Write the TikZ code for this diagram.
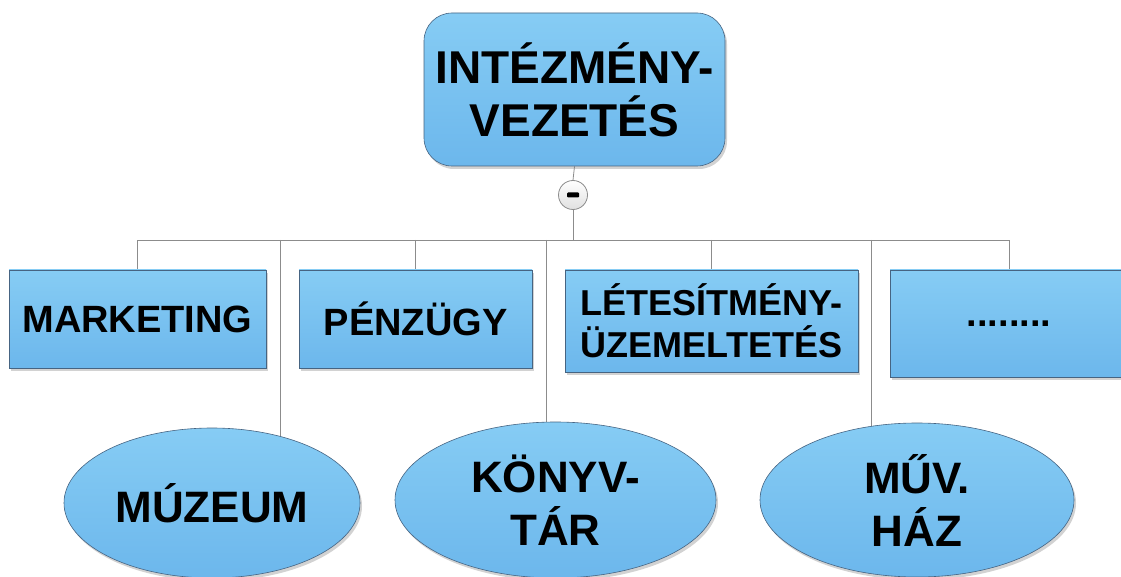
\documentclass[tikz,border=0pt]{standalone}
\usepackage{fontspec}
\setmainfont{Liberation Sans}
\usetikzlibrary{shapes.geometric,shadows,backgrounds}
\definecolor{boxtop}{RGB}{134,204,244}
\definecolor{boxbot}{RGB}{108,183,236}
\definecolor{boxline}{RGB}{70,100,130}
\definecolor{wire}{RGB}{140,140,140}
\tikzset{
  unit/.style={draw=boxline, line width=0.6pt, top color=boxtop, bottom color=boxbot,
    inner sep=0pt, align=center, font=\bfseries\fontsize{38}{46}\selectfont,
    drop shadow={shadow xshift=2pt, shadow yshift=-3pt, opacity=0.35}},
  deptbox/.style={unit, rectangle, minimum height=98pt},
  headbox/.style={unit, rectangle, rounded corners=28pt, minimum width=301pt, minimum height=153pt,
    font=\bfseries\fontsize{46}{53}\selectfont},
  sitebox/.style={unit, ellipse, font=\bfseries\fontsize{44}{53}\selectfont},
  wireline/.style={draw=wire, line width=0.8pt},
  togglemark/.style={circle, draw=wire, line width=0.8pt, inner sep=0pt, minimum size=29pt,
    top color=white, bottom color=black!12}
}
\begin{document}
\begin{tikzpicture}[x=1pt, y=-1pt]
\clip (0,0) rectangle (1121,577);

% head of the organisation
\node[headbox] (head) at (574.5,89.5) {INTÉZMÉNY-\\VEZETÉS};
\node[togglemark] (tog) at (573,195) {};
\fill[black, rounded corners=1pt] ([xshift=-6pt,yshift=-2.5pt]tog.center) rectangle ([xshift=6pt,yshift=2.5pt]tog.center);
\coordinate (bus) at (573,240);

% departments
\node[deptbox, minimum width=257pt] (mkt) at (137.5,319) {MARKETING};
\node[deptbox, minimum width=233pt] (fin) at (415.5,319) {PÉNZÜGY};
\node[deptbox, minimum width=293pt, minimum height=102pt,
      font=\bfseries\fontsize{36}{42}\selectfont] (fac) at (711.5,321) {LÉTESÍTMÉNY-\\ÜZEMELTETÉS};
\node[deptbox, minimum width=238pt, minimum height=107pt] (dots) at (1009,323.5) {........};

% institutions
\node[sitebox, minimum width=296pt, minimum height=150pt] (mus) at (212,503) {MÚZEUM};
\node[sitebox, minimum width=321pt, minimum height=156pt] (lib) at (555.5,500) {KÖNYV-\\TÁR};
\node[sitebox, minimum width=314pt, minimum height=154pt] (cult) at (917,500) {MŰV.\\HÁZ};

% connectors, kept behind the shapes
\begin{scope}[on background layer]
  \fill[white] (0,0) rectangle (1121,577);
  \draw[wireline] (head.south) -- (tog.north);
  \draw[wireline] (tog.south) -- (bus);
  \draw[wireline] (mkt.north) -- (mkt.north |- bus) -- (dots.north |- bus) -- (dots.north);
  \draw[wireline] (fin.north |- bus) -- (fin.north);
  \draw[wireline] (fac.north |- bus) -- (fac.north);
  \draw[wireline] (280,240) -- (280,0 |- mus.center);
  \draw[wireline] (546,240) -- (546,0 |- lib.center);
  \draw[wireline] (871,240) -- (871,0 |- cult.center);
\end{scope}
\end{tikzpicture}
\end{document}
